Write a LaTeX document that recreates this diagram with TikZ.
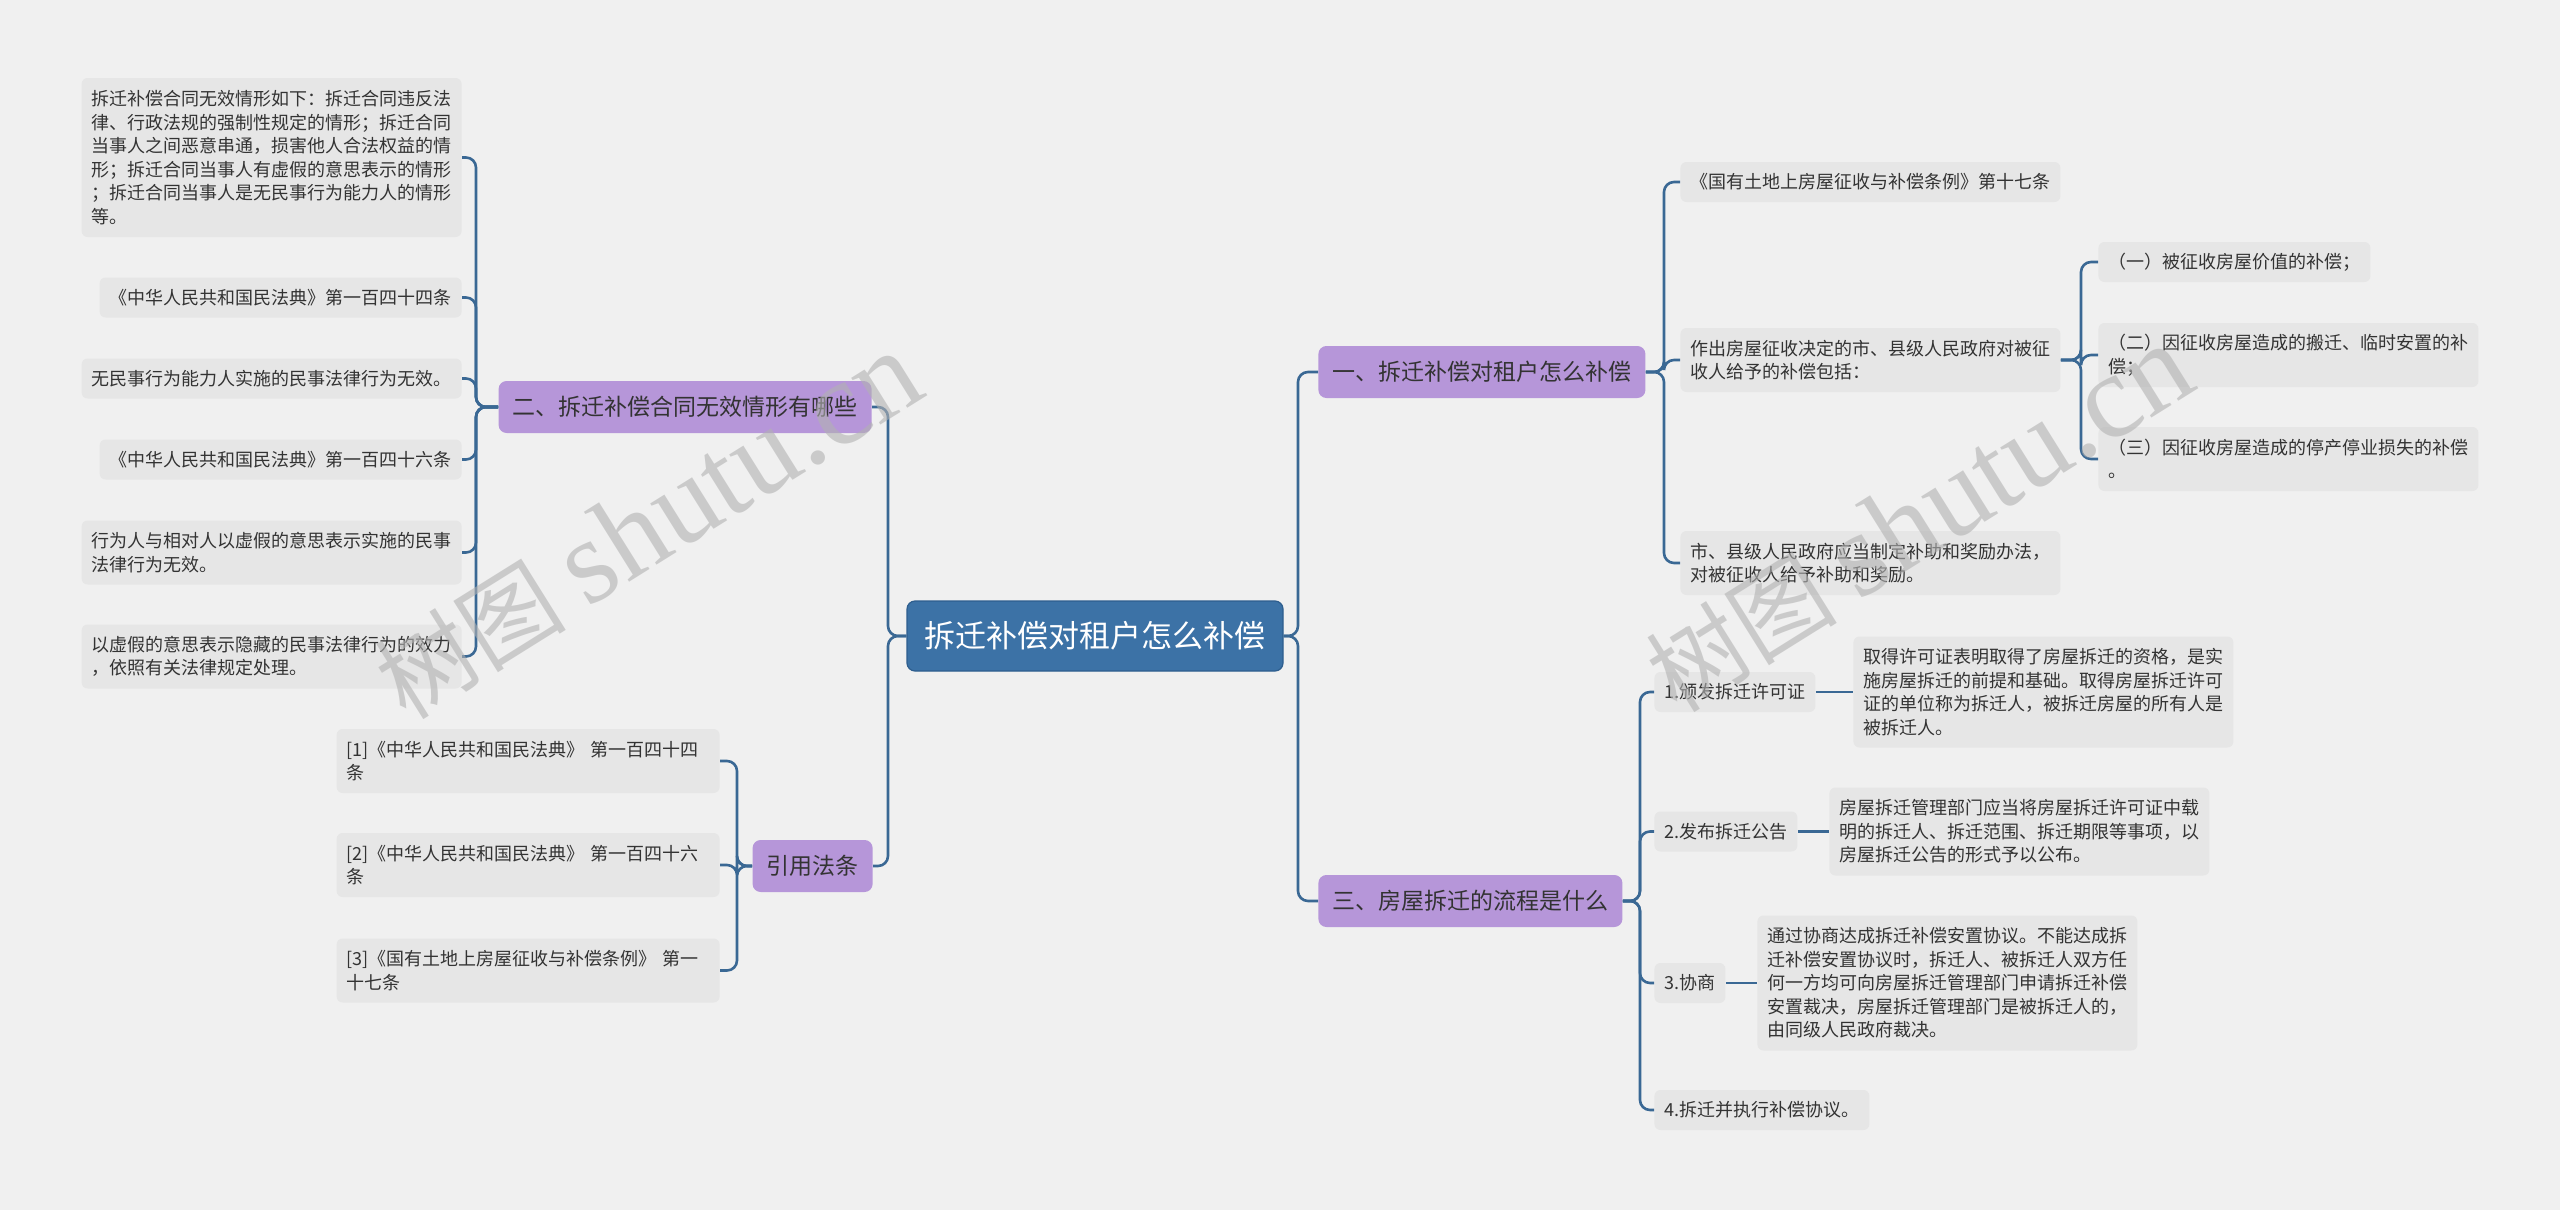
\documentclass[tikz,border=0pt]{standalone}
\usepackage{fontspec}
\setmainfont{Noto Sans CJK SC}
\newfontfamily\wmlatin{Liberation Serif}
\definecolor{bgc}{HTML}{F0F0F0}
\definecolor{leafc}{HTML}{E6E6E6}
\definecolor{linec}{HTML}{3A6894}
\definecolor{rootc}{HTML}{3C72A6}
\definecolor{rootb}{HTML}{2E5E8E}
\definecolor{branchc}{HTML}{B696D9}
\definecolor{txt}{HTML}{333333}
\begin{document}
\begin{tikzpicture}[x=0.5pt,y=-0.5pt,
  leaf/.style={fill=leafc, rounded corners=3pt, inner xsep=5pt, inner ysep=2pt, align=left, text=txt, font=\fontsize{9}{11.75}\selectfont, minimum height=20pt},
  ln2/.style={minimum height=32pt},
  ln3/.style={minimum height=44pt},
  ln4/.style={minimum height=55.5pt},
  ln5/.style={minimum height=67.5pt},
  ln6/.style={minimum height=79.5pt},
  wide/.style={text width=181.5pt},
  branch/.style={fill=branchc, rounded corners=4pt, inner xsep=7pt, minimum height=26pt, text=txt, font=\fontsize{11.5}{14}\selectfont},
  root/.style={fill=rootc, draw=rootb, line width=0.6pt, rounded corners=4pt, minimum width=188pt, minimum height=35pt, text=white, font=\fontsize{15.5}{18}\selectfont},
  conn/.style={draw=linec, line width=1.3pt, rounded corners=5pt},
  wm/.style={rotate=32, text=black!30, opacity=0.6}
]
\fill[bgc] (0,0) rectangle (2560,1210);
\useasboundingbox (0,0) rectangle (2560,1210);

% root and branches
\node[root] (root) at (1095,636) {拆迁补偿对租户怎么补偿};
\node[branch, anchor=west] (b1) at (1318,372) {一、拆迁补偿对租户怎么补偿};
\node[branch, anchor=west] (b3) at (1318,901) {三、房屋拆迁的流程是什么};
\node[branch, anchor=east] (b2) at (872,407) {二、拆迁补偿合同无效情形有哪些};
\node[branch, anchor=east] (cite) at (873,866) {引用法条};

% branch 1 children
\node[leaf, anchor=west] (c1) at (1680,182) {《国有土地上房屋征收与补偿条例》第十七条};
\node[leaf, ln2, anchor=west] (c2) at (1680,360) {作出房屋征收决定的市、县级人民政府对被征\\收人给予的补偿包括：};
\node[leaf, ln2, anchor=west] (c3) at (1680,563) {市、县级人民政府应当制定补助和奖励办法，\\对被征收人给予补助和奖励。};
\node[leaf, anchor=west] (d1) at (2098,262) {（一）被征收房屋价值的补偿；};
\node[leaf, ln2, anchor=west] (d2) at (2098,355) {（二）因征收房屋造成的搬迁、临时安置的补\\偿；};
\node[leaf, ln2, anchor=west] (d3) at (2098,459) {（三）因征收房屋造成的停产停业损失的补偿\\。};

% branch 2 children
\node[leaf, ln6, anchor=east] (l1) at (462,157.5) {拆迁补偿合同无效情形如下：拆迁合同违反法\\律、行政法规的强制性规定的情形；拆迁合同\\当事人之间恶意串通，损害他人合法权益的情\\形；拆迁合同当事人有虚假的意思表示的情形\\；拆迁合同当事人是无民事行为能力人的情形\\等。};
\node[leaf, anchor=east] (l2) at (462,297.5) {《中华人民共和国民法典》第一百四十四条};
\node[leaf, anchor=east] (l3) at (462,378.5) {无民事行为能力人实施的民事法律行为无效。};
\node[leaf, anchor=east] (l4) at (462,459.5) {《中华人民共和国民法典》第一百四十六条};
\node[leaf, ln2, anchor=east] (l5) at (462,552.5) {行为人与相对人以虚假的意思表示实施的民事\\法律行为无效。};
\node[leaf, ln2, anchor=east] (l6) at (462,656.5) {以虚假的意思表示隐藏的民事法律行为的效力\\，依照有关法律规定处理。};

% citation children
\node[leaf, ln2, wide, anchor=east] (r1) at (720,761) {[1]《中华人民共和国民法典》 第一百四十四\\条};
\node[leaf, ln2, wide, anchor=east] (r2) at (720,865) {[2]《中华人民共和国民法典》 第一百四十六\\条};
\node[leaf, ln2, wide, anchor=east] (r3) at (720,970.5) {[3]《国有土地上房屋征收与补偿条例》 第一\\十七条};

% branch 3 children
\node[leaf, anchor=west] (s1) at (1654,692) {1.颁发拆迁许可证};
\node[leaf, anchor=west] (s2) at (1654,831.5) {2.发布拆迁公告};
\node[leaf, anchor=west] (s3) at (1654,983) {3.协商};
\node[leaf, anchor=west] (s4) at (1654,1110) {4.拆迁并执行补偿协议。};
\node[leaf, ln4, anchor=west] (e1) at (1853,692) {取得许可证表明取得了房屋拆迁的资格，是实\\施房屋拆迁的前提和基础。取得房屋拆迁许可\\证的单位称为拆迁人，被拆迁房屋的所有人是\\被拆迁人。};
\node[leaf, ln3, anchor=west] (e2) at (1829,831.5) {房屋拆迁管理部门应当将房屋拆迁许可证中载\\明的拆迁人、拆迁范围、拆迁期限等事项，以\\房屋拆迁公告的形式予以公布。};
\node[leaf, ln5, anchor=west] (e3) at (1757,983) {通过协商达成拆迁补偿安置协议。不能达成拆\\迁补偿安置协议时，拆迁人、被拆迁人双方任\\何一方均可向房屋拆迁管理部门申请拆迁补偿\\安置裁决，房屋拆迁管理部门是被拆迁人的，\\由同级人民政府裁决。};

% junction columns
\coordinate (vR) at (1298,636);
\coordinate (vL) at (888,636);
\coordinate (v1) at (1664,372);
\coordinate (v2) at (2081,360);
\coordinate (v3) at (1640,901);
\coordinate (vB) at (476,407);
\coordinate (vC) at (737,866);

% connectors
\foreach \ch in {b1,b3}
  \draw[conn] (root.east) -- (vR |- root.east) -- (vR |- \ch.west) -- (\ch.west);
\foreach \ch in {b2,cite}
  \draw[conn] (root.west) -- (vL |- root.west) -- (vL |- \ch.east) -- (\ch.east);
\foreach \ch in {c1,c2,c3}
  \draw[conn] (b1.east) -- (v1 |- b1.east) -- (v1 |- \ch.west) -- (\ch.west);
\foreach \ch in {d1,d2,d3}
  \draw[conn] (c2.east) -- (v2 |- c2.east) -- (v2 |- \ch.west) -- (\ch.west);
\foreach \ch in {l1,l2,l3,l4,l5,l6}
  \draw[conn] (b2.west) -- (vB |- b2.west) -- (vB |- \ch.east) -- (\ch.east);
\foreach \ch in {r1,r2,r3}
  \draw[conn] (cite.west) -- (vC |- cite.west) -- (vC |- \ch.east) -- (\ch.east);
\foreach \ch in {s1,s2,s3,s4}
  \draw[conn] (b3.east) -- (v3 |- b3.east) -- (v3 |- \ch.west) -- (\ch.west);
\draw[conn] (s1.east) -- (s1.east -| e1.west);
\draw[conn] (s2.east) -- (s2.east -| e2.west);
\draw[conn] (s3.east) -- (s3.east -| e3.west);

% watermarks
\node[wm] (wm1) at (648,526) {\fontsize{48}{50}\selectfont 树图 {\wmlatin\fontsize{60}{62}\selectfont shutu.cn}};
\node[wm] (wm2) at (1919,519) {\fontsize{48}{50}\selectfont 树图 {\wmlatin\fontsize{60}{62}\selectfont shutu.cn}};
\end{tikzpicture}
\end{document}
